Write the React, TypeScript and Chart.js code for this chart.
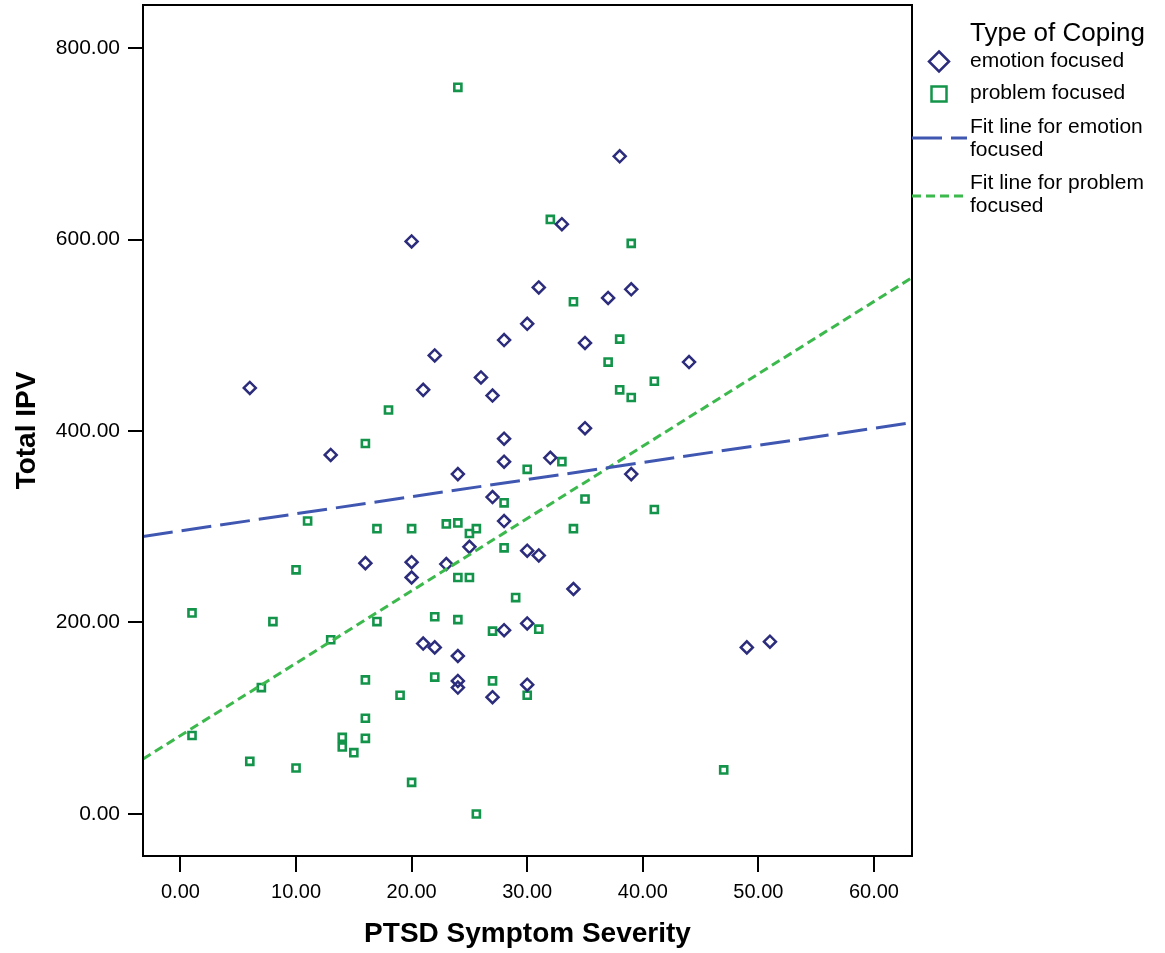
import React, { useEffect, useRef } from 'react';
import { Chart, registerables } from 'chart.js';

Chart.register(...registerables);

// ---- Data ----
const emotionPTSD = [6, 13, 20, 22, 21, 26, 27, 28, 30, 31, 28, 28, 24, 27, 28, 25, 30, 31, 16, 20, 20, 23, 21, 22, 24, 24, 24, 28, 30, 27, 30, 32, 33, 35, 35, 34, 37, 38, 39, 39, 44, 49, 51];
const emotionIPV = [445, 375, 598, 479, 443, 456, 437, 495, 512, 550, 392, 368, 355, 331, 306, 279, 275, 270, 262, 263, 247, 261, 178, 174, 165, 139, 132, 192, 199, 122, 135, 372, 616, 492, 403, 235, 539, 687, 548, 355, 472, 174, 180];

const problemPTSD = [24, 32, 39, 34, 38, 37, 41, 38, 39, 18, 16, 33, 30, 35, 28, 41, 11, 17, 20, 23, 24, 25.6, 25, 28, 34, 10, 24, 25, 29, 1, 8, 17, 22, 24, 27, 31, 13, 7, 16, 22, 27, 19, 30, 1, 16, 14, 14, 16, 15, 6, 10, 20, 25.6, 47];
const problemIPV = [759, 621, 596, 535, 496, 472, 452, 443, 435, 422, 387, 368, 360, 329, 325, 318, 306, 298, 298, 303, 304, 298, 293, 278, 298, 255, 247, 247, 226, 210, 201, 201, 206, 203, 191, 193, 182, 132, 140, 143, 139, 124, 124, 82, 100, 80, 70, 79, 64, 55, 48, 33, 0, 46];

// fit lines: [intercept, slope]
const emotionFit = [295.7, 1.786];
const problemFit = [81.9, 7.557];

const xRange = [-3.24, 63.29];
const yRange = [-43.9, 845];

const xTickStep = 10;
const yTickStep = 200;

const legendTitle = 'Type of Coping';
const legendLabels = ['emotion focused', 'problem focused', ['Fit line for emotion', 'focused'], ['Fit line for problem', 'focused']];
const xTitle = 'PTSD Symptom Severity';
const yTitle = 'Total IPV';

// ---- Styles ----
const NAVY = '#2c2c7c';
const DGREEN = '#13944a';
const BLUE_LINE = '#4057b2';
const GREEN_LINE = '#3cb94c';
const FONT = '"Liberation Sans", Arial, Helvetica, sans-serif';

const toPoints = (xs: number[], ys: number[]) => xs.map((x, i) => ({ x, y: ys[i] }));
const fitPoints = (fit: number[]) => xRange.map((x) => ({ x, y: fit[0] + fit[1] * x }));

const boxPlugin = {
  id: 'boxPlugin',
  afterDraw(chart: any) {
    const { ctx, chartArea } = chart;
    ctx.save();
    ctx.strokeStyle = '#000';
    ctx.lineWidth = 2;
    ctx.strokeRect(chartArea.left, chartArea.top, chartArea.right - chartArea.left, chartArea.bottom - chartArea.top);
    ctx.restore();
  },
};

const legendPlugin = {
  id: 'spssLegend',
  afterDraw(chart: any) {
    const { ctx } = chart;
    ctx.save();
    ctx.fillStyle = '#000';
    ctx.textBaseline = 'middle';
    ctx.textAlign = 'left';
    ctx.font = `26px ${FONT}`;
    ctx.fillText(legendTitle, 970, 34);

    ctx.font = `21px ${FONT}`;
    // diamond marker
    ctx.strokeStyle = NAVY;
    ctx.lineWidth = 2.5;
    ctx.beginPath();
    const dx = 939, dy = 61.5, r = 10;
    ctx.moveTo(dx, dy - r);
    ctx.lineTo(dx + r, dy);
    ctx.lineTo(dx, dy + r);
    ctx.lineTo(dx - r, dy);
    ctx.closePath();
    ctx.stroke();
    ctx.fillText(legendLabels[0] as string, 970, 61);

    // square marker
    ctx.strokeStyle = DGREEN;
    ctx.lineWidth = 2.5;
    ctx.strokeRect(939 - 7.5, 94 - 7.5, 15, 15);
    ctx.fillText(legendLabels[1] as string, 970, 93);

    // fit line emotion
    ctx.strokeStyle = BLUE_LINE;
    ctx.lineWidth = 3;
    ctx.setLineDash([30, 9]);
    ctx.beginPath();
    ctx.moveTo(912, 138);
    ctx.lineTo(967, 138);
    ctx.stroke();
    const l2 = legendLabels[2] as string[];
    ctx.fillText(l2[0], 970, 127);
    ctx.fillText(l2[1], 970, 150);

    // fit line problem
    ctx.strokeStyle = GREEN_LINE;
    ctx.setLineDash([9, 5]);
    ctx.beginPath();
    ctx.moveTo(912, 196);
    ctx.lineTo(967, 196);
    ctx.stroke();
    const l3 = legendLabels[3] as string[];
    ctx.fillText(l3[0], 970, 183);
    ctx.fillText(l3[1], 970, 206);
    ctx.restore();
  },
};

export default function App() {
  const canvasRef = useRef<HTMLCanvasElement | null>(null);

  useEffect(() => {
    document.body.style.margin = '0';
    const canvas = canvasRef.current;
    if (!canvas) return;
    const chart = new Chart(canvas, {
      type: 'scatter',
      data: {
        datasets: [
          {
            label: 'Fit line for emotion focused',
            data: fitPoints(emotionFit),
            showLine: true,
            borderColor: BLUE_LINE,
            borderWidth: 3,
            borderDash: [30, 9],
            pointRadius: 0,
            fill: false,
          } as any,
          {
            label: 'Fit line for problem focused',
            data: fitPoints(problemFit),
            showLine: true,
            borderColor: GREEN_LINE,
            borderWidth: 3,
            borderDash: [9, 5],
            pointRadius: 0,
            fill: false,
          } as any,
          {
            label: 'emotion focused',
            data: toPoints(emotionPTSD, emotionIPV),
            pointStyle: 'rectRot',
            pointRadius: 6,
            pointBorderWidth: 2.5,
            borderColor: NAVY,
            backgroundColor: 'rgba(255,255,255,0)',
          } as any,
          {
            label: 'problem focused',
            data: toPoints(problemPTSD, problemIPV),
            pointStyle: 'rect',
            pointRadius: 5,
            pointBorderWidth: 2.6,
            borderColor: DGREEN,
            backgroundColor: 'rgba(255,255,255,0)',
          } as any,
        ],
      },
      options: {
        responsive: false,
        animation: false,
        devicePixelRatio: 1,
        layout: { autoPadding: false, padding: { left: 0, right: 253, top: 5, bottom: 0 } },
        plugins: {
          legend: { display: false },
          tooltip: { enabled: false },
        },
        scales: {
          x: {
            type: 'linear',
            min: xRange[0],
            max: xRange[1],
            grid: { display: true, drawOnChartArea: false, drawTicks: true, tickLength: 16, color: '#000', lineWidth: 2 },
            border: { display: false },
            ticks: {
              stepSize: xTickStep,
              includeBounds: false,
              color: '#000',
              padding: 8,
              font: { family: FONT, size: 20 },
              callback: (v: any) => Number(v).toFixed(2),
            },
            title: {
              display: true,
              text: xTitle,
              color: '#000',
              font: { family: FONT, size: 28, weight: 'bold' },
              padding: { top: 0, bottom: 2 },
            },
            afterFit: (scale: any) => {
              scale.height = 97;
              scale.paddingLeft = 0;
              scale.paddingRight = 0;
            },
          },
          y: {
            type: 'linear',
            min: yRange[0],
            max: yRange[1],
            grid: { display: true, drawOnChartArea: false, drawTicks: true, tickLength: 15, color: '#000', lineWidth: 2 },
            border: { display: false },
            ticks: {
              stepSize: yTickStep,
              includeBounds: false,
              color: '#000',
              padding: 8,
              font: { family: FONT, size: 21 },
              callback: (v: any) => Number(v).toFixed(2),
            },
            title: {
              display: true,
              text: yTitle,
              color: '#000',
              font: { family: FONT, size: 28, weight: 'bold' },
              padding: { top: 10, bottom: 0 },
            },
            afterFit: (scale: any) => {
              scale.width = 143;
              scale.paddingTop = 0;
              scale.paddingBottom = 0;
            },
          },
        },
      } as any,
      plugins: [boxPlugin, legendPlugin],
    });
    return () => chart.destroy();
  }, []);

  return (
    <div style={{ width: 1165, height: 953, background: '#fff' }}>
      <canvas ref={canvasRef} width={1165} height={953} style={{ display: 'block', width: 1165, height: 953 }} />
    </div>
  );
}
